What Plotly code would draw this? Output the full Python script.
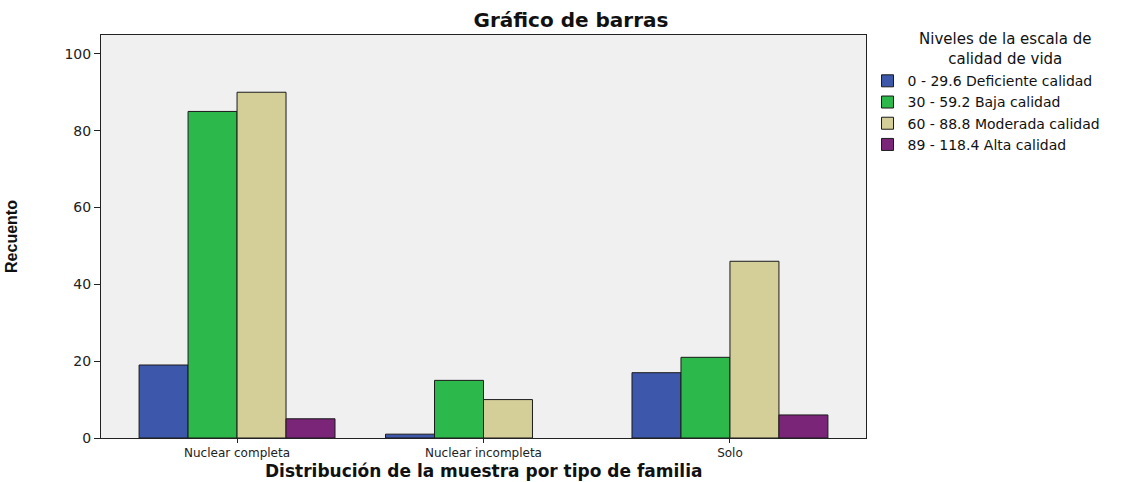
import plotly.graph_objects as go

categories = ["Nuclear completa", "Nuclear incompleta", "Solo"]
series_names = [
    "0 - 29.6 Deficiente calidad",
    "30 - 59.2 Baja calidad",
    "60 - 88.8 Moderada calidad",
    "89 - 118.4 Alta calidad",
]
deficiente = [19, 1, 17]
baja = [85, 15, 21]
moderada = [90, 10, 46]
alta = [5, 0, 6]
series_values = [deficiente, baja, moderada, alta]
colors = ["#3D57AA", "#2DB84B", "#D4CF98", "#7B2579"]
y_ticks = [0, 20, 40, 60, 80, 100]
legend_title = "Niveles de la escala de<br>calidad de vida"
x_title = "<b>Distribución de la muestra por tipo de familia</b>"

font = "DejaVu Sans, Verdana, sans-serif"

fig = go.Figure()
for name, vals, col in zip(series_names, series_values, colors):
    fig.add_trace(go.Bar(
        x=categories, y=vals, name=name,
        marker=dict(color=col,
                    line=dict(color="#1a1a1a", width=[1 if v > 0 else 0 for v in vals])),
    ))

fig.update_layout(
    width=1142, height=482,
    margin=dict(l=101, r=276, t=35, b=44, autoexpand=False),
    paper_bgcolor="white",
    plot_bgcolor="#F0F0F0",
    barmode="group",
    bargap=0.205,
    bargroupgap=0,
    font=dict(family=font, size=13, color="#222"),
    title=dict(text="<b>Gráfico de barras</b>", x=0.5, xref="container", xanchor="center",
               y=0.9585, yref="container", yanchor="middle",
               font=dict(family=font, size=20, color="#111")),
    xaxis=dict(
        range=[-0.552, 2.552],
        automargin=False,
        showline=True, linecolor="#222", linewidth=1, mirror=True,
        ticks="outside", ticklen=4, tickcolor="#222",
        tickfont=dict(size=12),
    ),
    yaxis=dict(
        range=[0, 104.9],
        automargin=False,
        tickvals=y_ticks,
        showgrid=False, zeroline=False,
        showline=True, linecolor="#222", linewidth=1, mirror=True,
        ticks="outside", ticklen=6, tickcolor="#222",
        tickfont=dict(size=14),
        title=dict(text="<b>Recuento</b>",
                   font=dict(family="Liberation Sans Narrow, Arial Narrow, Liberation Sans, sans-serif",
                             size=16, color="#111"),
                   standoff=42),
    ),
    legend=dict(
        x=1.002, xanchor="left", y=0.925, yanchor="top",
        bgcolor="rgba(0,0,0,0)",
        font=dict(family=font, size=14, color="#111"),
        itemwidth=30,
        tracegroupgap=0,
    ),
    annotations=[
        dict(text=legend_title, xref="paper", yref="paper",
             x=1.1817, y=0.966, xanchor="center", yanchor="middle",
             showarrow=False, align="center",
             font=dict(family=font, size=15, color="#111")),
        dict(text=x_title, xref="paper", yref="paper",
             x=0.5, y=-0.0819, xanchor="center", yanchor="middle",
             showarrow=False,
             font=dict(family=font, size=17, color="#111")),
    ],
)
fig.write_html("out.html", config={"displayModeBar": False},
               post_script="document.body.style.margin='0';")
